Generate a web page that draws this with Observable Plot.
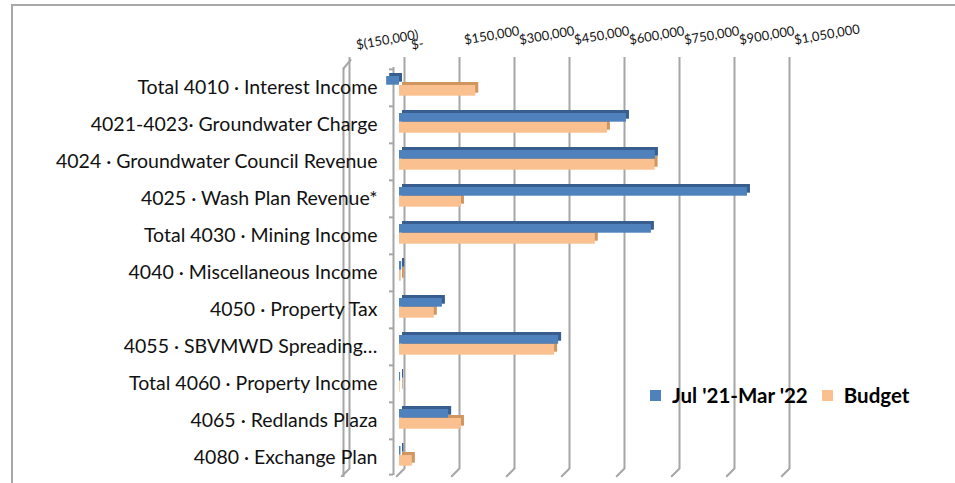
<!DOCTYPE html>
<html><head><meta charset="utf-8">
<script src="https://cdn.jsdelivr.net/npm/d3@7"></script>
<script src="https://cdn.jsdelivr.net/npm/@observablehq/plot@0.6"></script>
<style>
html,body{margin:0;padding:0;background:#fff;}
#wrap{position:relative;width:955px;height:483px;overflow:hidden;font-family:Lato,"Open Sans",sans-serif;}
#frame{position:absolute;left:11px;top:4px;width:960px;height:520px;border-left:2px solid #a8a8a8;border-top:2px solid #a8a8a8;}
#chart{position:absolute;left:0;top:0;}
#legend{position:absolute;left:650px;top:381px;display:flex;align-items:center;font-weight:bold;font-size:20.5px;line-height:28px;color:#000;white-space:nowrap;}
#legend .sw{width:11px;height:11px;display:inline-block;margin-right:11px;}
#legend .item{display:flex;align-items:center;margin-right:14px;}
</style></head>
<body>
<div id="wrap"><div id="frame"></div><div id="chart"></div><div id="legend"></div></div>
<script>
const categories = [
  "Total 4010 · Interest Income",
  "4021-4023· Groundwater Charge",
  "4024 · Groundwater Council Revenue",
  "4025 · Wash Plan Revenue*",
  "Total 4030 · Mining Income",
  "4040 · Miscellaneous Income",
  "4050 · Property Tax",
  "4055 · SBVMWD Spreading…",
  "Total 4060 · Property Income",
  "4065 · Redlands Plaza",
  "4080 · Exchange Plan"
];
const actual = [-35000, 619000, 698000, 949000, 687000, 6000, 117000, 434000, 3000, 134000, 4000];
const budget = [208000, 567000, 697000, 169000, 534000, 5000, 95000, 423000, 2000, 169000, 35000];
const seriesNames = ["Jul '21-Mar '22", "Budget"];
const xTicks = [-150000, 0, 150000, 300000, 450000, 600000, 750000, 900000, 1050000];
const tickLabels = ["$(150,000)", "$-", "$150,000", "$300,000", "$450,000", "$600,000", "$750,000", "$900,000", "$1,050,000"];
const colors = ["#4F81BD", "#FAC090"];
const sideColors = ["#375E8E", "#CF9660"];

const rows = categories.map((c, i) => ({category: c, actual: actual[i], budget: budget[i]}));
const ticks = xTicks.map((v, i) => ({v, label: tickLabels[i]}));

const H = 483, MT = 67, MB = 6;
const bw = (H - MT - MB) / categories.length;
const grid = "#a6a6a6";
const font = "Lato, 'Open Sans', sans-serif";

const line = {draw(ctx, l) { ctx.moveTo(0, 0); ctx.lineTo(0, -l); }};

const chart = Plot.plot({
  width: 955, height: H,
  marginLeft: 344, marginRight: 171, marginTop: MT, marginBottom: MB,
  x: {domain: [-150000, 1050000], axis: null},
  y: {domain: categories, axis: null, padding: 0},
  style: {fontFamily: font, background: "transparent", color: "#000"},
  marks: [
    // back gridlines
    Plot.ruleX(xTicks, {stroke: grid, strokeWidth: 2, dx: 5, insetTop: -10, insetBottom: 9}),
    Plot.vector(xTicks, {x: d => d, frameAnchor: "bottom", dx: 5, dy: -9, rotate: 225, length: 11, anchor: "start", shape: line, stroke: grid, strokeWidth: 2}),
    // left wall front edge
    Plot.ruleX([xTicks[0]], {stroke: grid, strokeWidth: 2, dx: -1, insetTop: 1}),
    Plot.vector([xTicks[0]], {x: d => d, frameAnchor: "top", dx: -1, dy: 1, rotate: 40, length: 11, anchor: "start", shape: line, stroke: grid, strokeWidth: 2}),
    // category axis line & boundary ticks
    Plot.ruleX([0], {stroke: grid, strokeWidth: 2, dx: -6, insetBottom: 2}),
    Plot.ruleY(categories, {x1: 0, x2: 0, insetLeft: -10, insetRight: 6, dy: -bw / 2, stroke: grid, strokeWidth: 2}),
    Plot.ruleY([categories[categories.length - 1]], {x1: 0, x2: 0, insetLeft: -10, insetRight: 6, dy: bw / 2 - 2, stroke: grid, strokeWidth: 2}),
    // budget bars (3D side, then face)
    Plot.barX(rows, {y: "category", x: "budget", fill: sideColors[1], insetTop: 16, insetBottom: 10.3, dx: 3, dy: -3}),
    Plot.barX(rows, {y: "category", x: "budget", fill: colors[1], insetTop: 16, insetBottom: 10.3}),
    // actual bars
    Plot.barX(rows, {y: "category", x: "actual", fill: sideColors[0], insetTop: 7, insetBottom: 21.3, dx: 3, dy: -3}),
    Plot.barX(rows, {y: "category", x: "actual", fill: colors[0], insetTop: 7, insetBottom: 21.3}),
    // category labels
    Plot.text(rows, {y: "category", x: 0, text: "category", textAnchor: "end", dx: -22, dy: 0, fontSize: 19.5, fill: "#111"}),
    // top tick labels
    Plot.text(ticks.slice(0, 2), {x: "v", text: "label", frameAnchor: "top", textAnchor: "start", rotate: -10, dx: 11, dy: -27, fontSize: 13, fill: "#111"}),
    Plot.text(ticks.slice(2), {x: "v", text: "label", frameAnchor: "top", textAnchor: "start", rotate: -10, dx: 9, dy: -32, fontSize: 13, fill: "#111"})
  ]
});
document.getElementById("chart").append(chart);

const legend = document.getElementById("legend");
seriesNames.forEach((name, i) => {
  const item = document.createElement("span");
  item.className = "item";
  const sw = document.createElement("span");
  sw.className = "sw";
  sw.style.background = colors[i];
  item.append(sw, document.createTextNode(name));
  legend.append(item);
});
</script>
</body></html>
